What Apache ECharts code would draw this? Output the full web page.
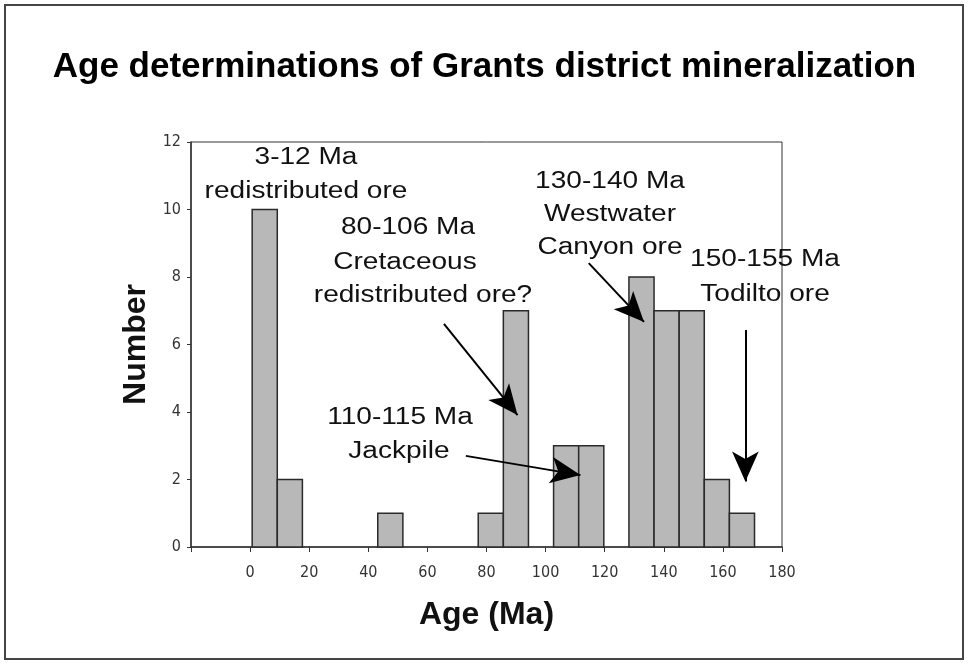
<!DOCTYPE html>
<html>
<head>
<meta charset="utf-8">
<script src="https://cdn.jsdelivr.net/npm/echarts@6/dist/echarts.min.js"></script>
<style>
html, body { margin: 0; padding: 0; background: #fff; }
#chart { width: 969px; height: 664px; }
</style>
</head>
<body>
<div id="chart"></div>
<script>
// histogram bins (Ma) and counts
var binStart = [0.7, 9.2, 43.2, 77.2, 85.7, 102.7, 111.2, 128.2, 136.7, 145.2, 153.7, 162.2];
var binEnd   = [9.2, 17.7, 51.7, 85.7, 94.2, 111.2, 119.7, 136.7, 145.2, 153.7, 162.2, 170.7];
var counts   = [10, 2, 1, 1, 7, 3, 3, 8, 7, 7, 2, 1];

// annotation arrows in data coords [from, to]
var arrows = [
  [[65.6, 6.61], [90.5, 3.91]],
  [[73.0, 2.70], [111.8, 2.13]],
  [[114.6, 8.41], [133.3, 6.67]],
  [[167.6, 6.43], [167.6, 1.94]]
];

var bins = [];
for (var i = 0; i < counts.length; i++) {
  bins.push([binStart[i], binEnd[i], counts[i]]);
}

var tickFont = '"DejaVu Sans Condensed", "Liberation Sans Narrow", sans-serif';
var annFont = '23px "Liberation Sans", Arial, sans-serif';

function note(txt, x, y) {
  return {
    type: 'text', x: x, y: y, scaleX: 1.22, z: 100,
    style: { text: txt, font: annFont, fill: '#111', textAlign: 'center', textVerticalAlign: 'middle' }
  };
}

var myChart = echarts.init(document.getElementById('chart'));
myChart.setOption({
  animation: false,
  backgroundColor: '#fff',
  title: {
    text: 'Age determinations of Grants district mineralization',
    left: 'center',
    top: 45,
    textStyle: { fontSize: 35, fontWeight: 'bold', color: '#000', fontFamily: '"Liberation Sans", Arial, sans-serif' }
  },
  grid: {
    left: 191, right: 187, top: 142, bottom: 117,
    show: true, borderColor: '#333', borderWidth: 1
  },
  xAxis: {
    type: 'value',
    min: -20, max: 180, interval: 20,
    name: 'Age (Ma)',
    nameLocation: 'middle',
    nameGap: 52,
    nameTextStyle: { fontSize: 32, fontWeight: 'bold', color: '#111', fontFamily: '"Liberation Sans", Arial, sans-serif' },
    axisLine: { lineStyle: { color: '#333', width: 1.5 } },
    axisTick: { length: 5, lineStyle: { color: '#333' } },
    axisLabel: {
      margin: 18, fontSize: 16, color: '#333', fontFamily: tickFont,
      formatter: function (v) { return v < 0 ? '' : v; }
    },
    splitLine: { show: false }
  },
  yAxis: {
    type: 'value',
    min: 0, max: 12, interval: 2,
    name: 'Number',
    nameLocation: 'middle',
    nameRotate: 90,
    nameGap: 32,
    nameTextStyle: { fontSize: 32, fontWeight: 'bold', color: '#111', fontFamily: '"Liberation Sans", Arial, sans-serif' },
    axisLine: { show: true, onZero: false, lineStyle: { color: '#333', width: 1.5 } },
    axisTick: { show: true, length: 4, lineStyle: { color: '#333' } },
    axisLabel: { margin: 10, fontSize: 16, color: '#333', fontFamily: tickFont },
    splitLine: { show: false }
  },
  series: [
    {
      type: 'custom',
      data: bins,
      encode: { x: [0, 1], y: 2 },
      renderItem: function (params, api) {
        var top = api.coord([api.value(0), api.value(2)]);
        var bot = api.coord([api.value(1), 0]);
        return {
          type: 'rect',
          shape: { x: top[0], y: top[1], width: bot[0] - top[0], height: bot[1] - top[1] },
          style: { fill: '#b8b8b8', stroke: '#2a2a2a', lineWidth: 1.5 }
        };
      }
    },
    {
      type: 'line',
      data: [],
      markLine: {
        silent: true,
        symbol: ['none', 'arrow'],
        symbolSize: [20, 30],
        label: { show: false },
        lineStyle: { color: '#000', width: 2, type: 'solid' },
        data: arrows.map(function (a) {
          return [{ coord: a[0] }, { coord: a[1] }];
        })
      }
    }
  ],
  graphic: [
    {
      type: 'rect', z: -1,
      shape: { x: 5, y: 5, width: 958, height: 654 },
      style: { fill: 'none', stroke: '#444', lineWidth: 2 }
    },
    note('3-12 Ma', 306, 158),
    note('redistributed ore', 306, 192),
    note('80-106 Ma', 408, 228),
    note('Cretaceous', 405, 263),
    note('redistributed ore?', 423, 296),
    note('110-115 Ma', 400, 418),
    note('Jackpile', 399, 452),
    note('130-140 Ma', 610, 182),
    note('Westwater', 610, 215),
    note('Canyon ore', 610, 248),
    note('150-155 Ma', 765, 260),
    note('Todilto ore', 765, 295)
  ]
});
</script>
</body>
</html>
